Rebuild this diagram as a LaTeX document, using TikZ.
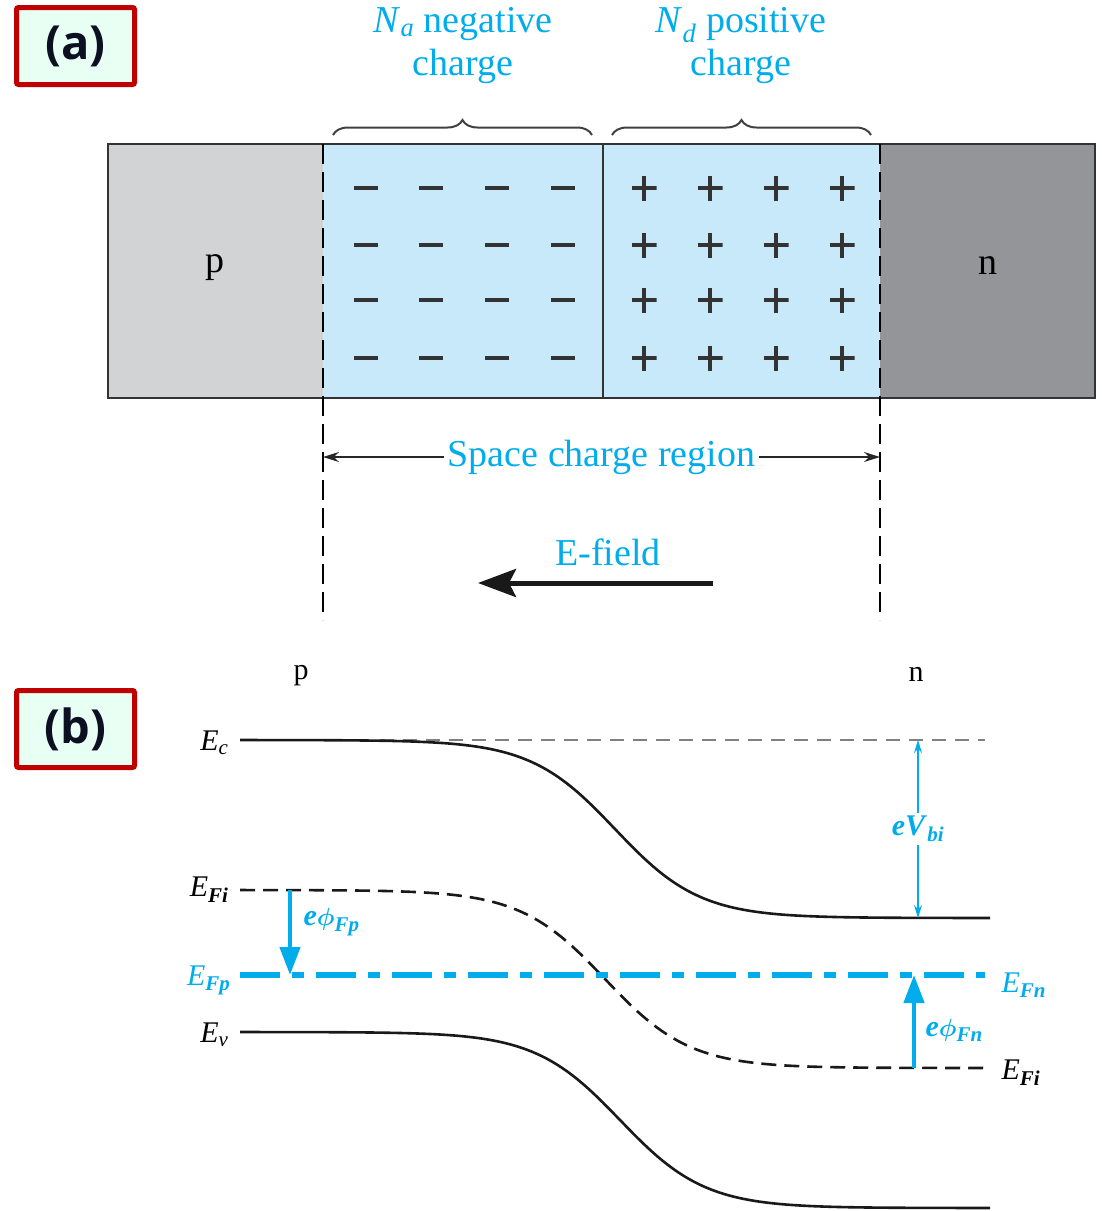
\documentclass[tikz,border=0pt]{standalone}
\usepackage{fontspec}
\setmainfont{Liberation Serif}
\newfontfamily\tagfont{Open Sans}
\usetikzlibrary{arrows.meta,decorations.pathreplacing,positioning}
\definecolor{skyblue}{RGB}{0,172,236}
\definecolor{zonefill}{RGB}{200,233,250}
\definecolor{pgray}{RGB}{210,211,213}
\definecolor{ngray}{RGB}{147,149,152}
\definecolor{tagred}{RGB}{192,0,0}
\definecolor{tagfill}{RGB}{232,255,244}
\definecolor{tagtext}{RGB}{12,16,34}

\begin{document}
\begin{tikzpicture}[x=1pt, y=-1pt,
    tag/.style={draw=tagred, line width=5pt, fill=tagfill, rounded corners=2pt, minimum width=118pt, minimum height=77pt, text=tagtext, font=\tagfont\bfseries\fontsize{47}{50}\selectfont},
    big/.style={font=\fontsize{38}{43}\selectfont},
    lvl/.style={font=\fontsize{30}{34}\selectfont},
    minussign/.style={inner sep=0pt, minimum width=24pt, minimum height=3.2pt, fill=black!80},
    plussign/.style={inner sep=0pt, minimum size=25pt, path picture={
        \draw [line width=3.2pt, black!80] (path picture bounding box.north) -- (path picture bounding box.south)
            (path picture bounding box.west) -- (path picture bounding box.east);}},
    bound/.style={line width=1.8pt, dash pattern=on 20pt off 8pt},
    band/.style={line width=2.6pt, black!90},
    brace/.style={decorate, decoration={brace, amplitude=15pt}, line width=2pt, black!75}]
    \useasboundingbox (0,0) rectangle (1102,1211);

    \node [tag] (taga) at (75.5,46) {(a)};
    \node [tag] (tagb) at (75.5,729) {(b)};

    % junction
    \fill [pgray] (108,144) rectangle (323,398);
    \fill [zonefill] (323,144) rectangle (880,398);
    \fill [ngray] (880,144) rectangle (1095,398);
    \draw [line width=2pt, black!80] (323,144) -- (108,144) -- (108,398) -- (323,398);
    \draw [line width=2pt, black!80] (880,144) -- (1095,144) -- (1095,398) -- (880,398);
    \draw [line width=2pt, black!80] (323,144) -- (880,144);
    \draw [line width=2pt, black!80] (323,398) -- (880,398);
    \draw [line width=2pt, black!80] (603,144) -- (603,398);
    \draw [bound] (323,144) -- (323,620);
    \draw [bound] (880,144) -- (880,620);

    \node [big] (pa) at (215,268) {p};
    \node [big] (na) at (988,266) {n};

    \foreach \r/\y in {1/188, 2/245, 3/300, 4/358} {
        \foreach \c/\xm/\xp in {1/366/644, 2/431/710, 3/497/776, 4/563/842} {
            \node [minussign] (minus\r\c) at (\xm,\y) {};
            \node [plussign] (plus\r\c) at (\xp,\y) {};
        }
    }

    \draw [brace] (333,135) -- (592,135);
    \draw [brace] (612,135) -- (871,135);
    \node [big, text=skyblue, align=center] (nacc) at (463,46) {\textit{N}\textsubscript{\textit{a}} negative\\charge};
    \node [big, text=skyblue, align=center] (ndon) at (741,46) {\textit{N}\textsubscript{\textit{d}} positive\\charge};

    \coordinate (scl) at (323,457);
    \coordinate (scr) at (880,457);
    \draw [{Stealth[length=16pt,width=10pt]}-{Stealth[length=16pt,width=10pt]}, line width=1.6pt, black!85]
        (scl) -- node [big, text=skyblue, fill=white, inner xsep=4pt] (scrlabel) {Space charge region} (scr);

    \node [big, text=skyblue] (efield) at (608,552) {E-field};
    \coordinate (ef0) at (713,583);
    \coordinate (ef1) at (478,583);
    \draw [-{Stealth[length=38pt,width=28pt,inset=7pt]}, line width=5pt, black!90] (ef0) -- (ef1);

    % band diagram
    \node [lvl] (pb) at (301,676) {p};
    \node [lvl] (nb) at (916,674) {n};

    \draw [line width=2pt, gray, dash pattern=on 14pt off 9pt] (380,740) -- (985,740);
    \draw [band] plot [domain=240:990, samples=150] (\x, {740+178*(1+tanh((\x-615)/85))/2});
    \draw [band, dash pattern=on 15pt off 8pt] plot [domain=240:990, samples=150] (\x, {890+178*(1+tanh((\x-605)/85))/2});
    \draw [band] plot [domain=240:990, samples=150] (\x, {1032+176*(1+tanh((\x-620)/85))/2});
    \draw [skyblue, line width=6pt, dash pattern=on 40pt off 12pt on 12pt off 12pt] (240,975) -- (985,975);

    \node [lvl, anchor=east] (ec) at (232,743) {\textit{E}\textsubscript{\textit{c}}};
    \node [lvl, anchor=east] (efil) at (232,890) {\textit{E}\textsubscript{\textbf{\textit{Fi}}}};
    \node [lvl, anchor=east, text=skyblue] (efp) at (234,980) {\textit{E}\textsubscript{\textbf{\textit{Fp}}}};
    \node [lvl, anchor=east] (ev) at (232,1035) {\textit{E}\textsubscript{\textit{v}}};
    \node [lvl, anchor=west, text=skyblue] (efn) at (998,985) {\textit{E}\textsubscript{\textbf{\textit{Fn}}}};
    \node [lvl, anchor=west] (efir) at (998,1073) {\textit{E}\textsubscript{\textbf{\textit{Fi}}}};

    \coordinate (vtop) at (918,740);
    \coordinate (vbot) at (918,918);
    \draw [{Stealth[length=13pt,width=8pt]}-{Stealth[length=13pt,width=8pt]}, line width=1.5pt, skyblue]
        (vtop) -- node [lvl, fill=white, text=skyblue, inner xsep=1pt] (vbi) {\textbf{\textit{eV}}\textsubscript{\textbf{\textit{bi}}}} (vbot);

    \coordinate (fp0) at (290,890);
    \coordinate (fp1) at (290,975);
    \draw [-{Triangle[length=28pt,width=20pt]}, line width=4.5pt, skyblue] (fp0) -- (fp1);
    \node [lvl, text=skyblue, anchor=west] (phifp) at (300,922) {\textbf{\textit{e}}{\boldmath$\phi$}\textsubscript{\textbf{\textit{Fp}}}};

    \coordinate (fn0) at (914,1068);
    \coordinate (fn1) at (914,975);
    \draw [-{Triangle[length=28pt,width=20pt]}, line width=4.5pt, skyblue] (fn0) -- (fn1);
    \node [lvl, text=skyblue, anchor=west] (phifn) at (922,1030) {\textbf{\textit{e}}{\boldmath$\phi$}\textsubscript{\textbf{\textit{Fn}}}};
\end{tikzpicture}
\end{document}
